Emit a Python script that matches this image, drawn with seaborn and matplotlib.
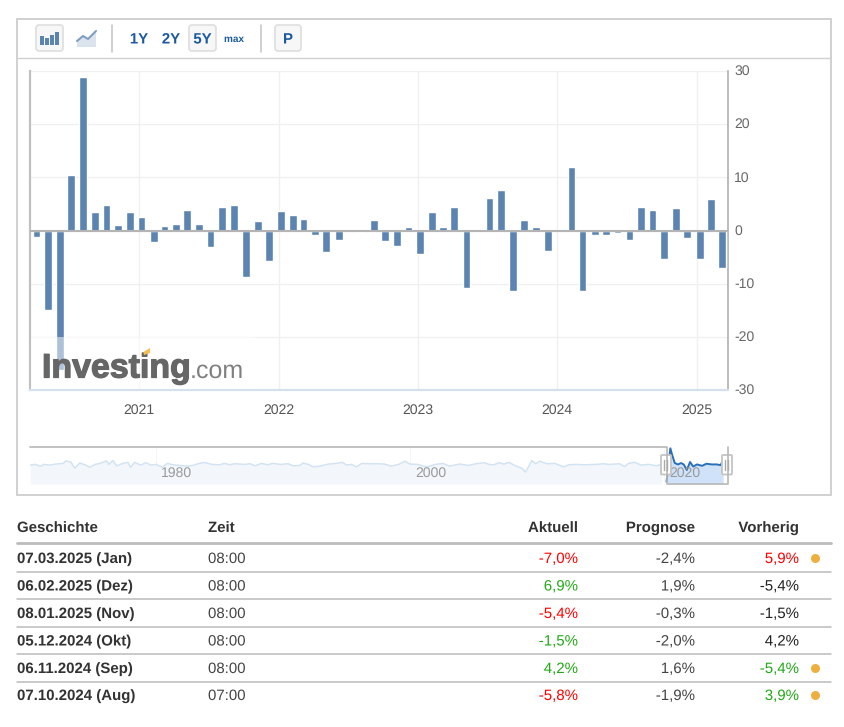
#!/usr/bin/env python3

import seaborn as sns
import pandas as pd
import matplotlib.pyplot as plt
import matplotlib.dates as mdates
import matplotlib.patheffects as pe
from matplotlib.patches import FancyBboxPatch, Rectangle, Polygon
from matplotlib.transforms import ScaledTranslation

# release dates and values of the bars
release_dates = [
    "2020-04-07", "2020-05-08", "2020-06-08", "2020-07-07", "2020-08-07", "2020-09-07",
    "2020-10-07", "2020-11-06", "2020-12-08", "2021-01-07", "2021-02-08", "2021-03-08",
    "2021-04-08", "2021-05-07", "2021-06-07", "2021-07-07", "2021-08-06", "2021-09-07",
    "2021-10-07", "2021-11-08", "2021-12-07", "2022-01-07", "2022-02-07", "2022-03-07",
    "2022-04-07", "2022-05-06", "2022-06-08", "2022-07-07", "2022-08-05", "2022-09-07",
    "2022-10-07", "2022-11-08", "2022-12-07", "2023-01-06", "2023-02-07", "2023-03-08",
    "2023-04-06", "2023-05-08", "2023-06-07", "2023-07-07", "2023-08-07", "2023-09-07",
    "2023-10-06", "2023-11-07", "2023-12-07", "2024-01-08", "2024-02-07", "2024-03-07",
    "2024-04-08", "2024-05-07", "2024-06-07", "2024-07-08", "2024-08-07", "2024-09-06",
    "2024-10-07", "2024-11-06", "2024-12-05", "2025-01-08", "2025-02-06", "2025-03-07",
]
actual_values = [
    -1.2, -15.0, -26.2, 10.5, 28.8, 3.4, 4.8, 1.0, 3.4, 2.6,
    -2.2, 0.8, 1.3, 3.9, 1.3, -3.1, 4.5, 4.8, -8.8, 1.7,
    -5.8, 3.6, 2.9, 2.2, -0.9, -4.1, -1.8, 0.0, -0.3, 2.0,
    -2.0, -3.0, 0.6, -4.4, 3.5, 0.6, 4.5, -10.9, 0.1, 6.2,
    7.6, -11.4, 2.0, 0.6, -3.9, 0.0, 11.9, -11.4, -0.9, -0.9,
    -0.5, -1.7, 4.5, 3.9, -5.3, 4.2, -1.5, -5.4, 5.9, -7.0,
]

# navigator overview, faded part and selected part
nav_years = [
    1970.1, 1970.5, 1970.9, 1971.2, 1971.6, 1972.1, 1972.7, 1972.9, 1973.3, 1973.6,
    1974.0, 1974.4, 1974.8, 1975.2, 1975.6, 1976.1, 1976.3, 1976.6, 1976.9, 1977.4,
    1977.8, 1978.0, 1978.3, 1978.8, 1979.2, 1979.6, 1980.0, 1980.5, 1980.9, 1981.3,
    1981.9, 1982.5, 1982.9, 1983.3, 1983.8, 1984.4, 1985.0, 1985.4, 1985.8, 1986.2,
    1987.0, 1987.4, 1987.8, 1988.3, 1988.8, 1989.2, 1989.8, 1990.4, 1990.8, 1991.3,
    1991.6, 1992.0, 1992.4, 1992.9, 1993.6, 1994.2, 1994.7, 1995.0, 1995.4, 1995.8,
    1996.2, 1996.8, 1997.5, 1998.0, 1998.5, 1999.1, 1999.6, 2000.0, 2000.6, 2001.3,
    2002.0, 2002.6, 2003.1, 2003.9, 2004.6, 2005.2, 2005.9, 2006.2, 2006.6, 2007.0,
    2007.4, 2007.8, 2008.3, 2008.8, 2009.1, 2009.6, 2009.9, 2010.2, 2010.8, 2011.4,
    2012.1, 2012.5, 2013.1, 2013.8, 2014.7, 2015.2, 2015.7, 2016.5, 2016.9, 2017.2,
    2017.7, 2018.2, 2018.8, 2019.4, 2019.8,
]
nav_values = [
    -1.2, 0.0, -3.0, 0.0, -1.2, 0.6, 1.8, 6.0, 4.2, -6.6,
    2.4, -0.6, -4.8, 0.0, 1.8, 6.0, 0.0, 6.6, -2.4, 1.8,
    3.6, -5.4, 3.6, -1.2, 3.0, -1.2, 0.0, -4.8, 1.8, -0.6,
    -1.8, -3.0, -1.8, 1.2, 3.6, 0.0, -0.6, 1.8, -0.6, 1.2,
    0.0, 1.2, -2.4, 1.8, -0.6, 1.8, 0.0, 1.2, -2.4, -1.8,
    2.4, 0.0, -4.2, -3.0, 0.6, 1.8, 3.6, -1.2, 0.0, -4.2,
    1.8, 1.2, 1.2, 0.6, -3.0, 0.0, 5.4, 0.6, 0.0, -4.2,
    0.0, 1.8, -3.0, 0.6, -1.8, 1.2, 3.0, 0.0, -0.6, 3.0,
    0.6, 3.6, -2.4, -6.6, -13.2, 6.6, 1.2, 5.4, 1.2, 1.8,
    -4.2, -0.6, 0.0, -0.6, 0.0, 1.2, 0.0, 1.2, -3.6, 1.8,
    3.6, -1.2, 0.0, -2.4, 0.0,
]
sel_years = [
    2020.2, 2020.5, 2020.65, 2020.85, 2021.1, 2021.35, 2021.55, 2021.8, 2022.05, 2022.3,
    2022.6, 2023.0, 2023.35, 2023.75, 2024.15, 2024.45, 2024.65,
]
sel_values = [
    -30.0, 28.0, 16.0, 2.4, 0.0, 2.4, 0.0, -9.6, 4.2, -3.6,
    0.0, -2.4, 1.2, 0.0, 0.0, -1.2, 6.0,
]
nav_labels = [1980, 2000, 2020]

# table below the chart
table_headers = ["Geschichte", "Zeit", "Aktuell", "Prognose", "Vorherig"]
table_dates = ["07.03.2025 (Jan)", "06.02.2025 (Dez)", "08.01.2025 (Nov)",
               "05.12.2024 (Okt)", "06.11.2024 (Sep)", "07.10.2024 (Aug)"]
table_times = ["08:00", "08:00", "08:00", "08:00", "08:00", "07:00"]
table_actual = ["-7,0%", "6,9%", "-5,4%", "-1,5%", "4,2%", "-5,8%"]
table_forecast = ["-2,4%", "1,9%", "-0,3%", "-2,0%", "1,6%", "-1,9%"]
table_previous = ["5,9%", "-5,4%", "-1,5%", "4,2%", "-5,4%", "3,9%"]
actual_colors = ["r", "g", "r", "g", "g", "r"]
previous_colors = ["r", "k", "k", "k", "g", "g"]
revised = [True, False, False, False, True, True]

W, H = 845, 727
BAR = "#5c84b1"
BLUE = "#1c5aa0"
COLORS = {"r": "#ff0000", "g": "#22a916", "k": "#222222"}
FONT = "Liberation Sans"
TABLE_SIZE = 10.8
# drawn as paths, so text stays on its baseline instead of snapping to pixels
EXACT = [pe.Normal()]

sns.set_theme(style="white")
plt.rcParams["font.family"] = [FONT, "DejaVu Sans"]
plt.rcParams["axes.unicode_minus"] = False
plt.rcParams["text.hinting"] = "no_hinting"
plt.rcParams["text.hinting_factor"] = 1


def px_axes(fig, left, top, right, bottom, **kw):
    return fig.add_axes([left / W, 1 - bottom / H, (right - left) / W, (bottom - top) / H], **kw)


def button(ax, x0, y0, x1, y1):
    ax.add_patch(FancyBboxPatch((x0 + 2, y0 + 2), x1 - x0 - 4, y1 - y0 - 4,
                                boxstyle="round,pad=2,rounding_size=3",
                                fc="#f7f7f7", ec="#dedede", lw=1.2))


fig = plt.figure(figsize=(W / 100, H / 100), dpi=100, facecolor="white")

# page layer: frame, toolbar, table
page = px_axes(fig, 0, 0, W, H, zorder=0)
page.set_xlim(0, W)
page.set_ylim(H, 0)
page.axis("off")

page.add_patch(Rectangle((17.5, 18.5), 813.5, 476.5, fc="white", ec="#c8c8c8", lw=1.2))
page.plot([18, 831], [57.5, 57.5], color="#d0d0d0", lw=1)
for x in [112.5, 261.5]:
    page.plot([x, x], [25, 52], color="#c4c4c4", lw=1.1)
button(page, 36, 25, 63, 51)
button(page, 189, 25, 216, 51)
button(page, 275, 25, 301, 51)

# toolbar icons
for x, top in [(40, 36), (45, 38), (50, 35), (55, 32)]:
    page.add_patch(Rectangle((x, top), 3.6, 45 - top, fc=BAR, ec="none"))
page.add_patch(Polygon([(77, 41), (83, 37), (88, 40), (96, 32), (96, 47), (77, 47)],
                       fc="#dbe3ec", ec="none"))
page.plot([77, 83, 88, 96], [41, 36, 39, 31], color="#7f9fc2", lw=1.5)

for label, x, size in [("1Y", 139, 10.8), ("2Y", 171, 10.8), ("5Y", 202.5, 10.8),
                       ("max", 234, 7.2), ("P", 288, 10.8)]:
    page.text(x, 43.5 if size > 8 else 42, label, color=BLUE, fontsize=size, fontweight="bold",
              ha="center", va="baseline", path_effects=EXACT)

# table
header_x = [17, 208, 578, 695, 799]
header_ha = ["left", "left", "right", "right", "right"]
for text, x, ha in zip(table_headers, header_x, header_ha):
    page.text(x, 532, text, color="#333333", fontsize=TABLE_SIZE, fontweight="bold",
              ha=ha, va="baseline", path_effects=EXACT)
page.plot([17, 831.5], [543, 543], color="#bbbbbb", lw=2)

row_y = [558, 585.5, 613, 640.5, 668, 695]
for i, y in enumerate(row_y):
    base = y + 5
    page.text(17, base, table_dates[i], color="#333333", fontsize=TABLE_SIZE, fontweight="bold",
              va="baseline", path_effects=EXACT)
    page.text(208, base, table_times[i], color="#444444", fontsize=TABLE_SIZE, va="baseline",
              path_effects=EXACT)
    page.text(578, base, table_actual[i], color=COLORS[actual_colors[i]], fontsize=TABLE_SIZE,
              ha="right", va="baseline", path_effects=EXACT)
    page.text(695, base, table_forecast[i], color="#444444", fontsize=TABLE_SIZE,
              ha="right", va="baseline", path_effects=EXACT)
    page.text(799, base, table_previous[i], color=COLORS[previous_colors[i]], fontsize=TABLE_SIZE,
              ha="right", va="baseline", path_effects=EXACT)
    if revised[i]:
        page.plot(815.5, y, "o", color="#edb03e", ms=6.5, mec="none")
    if i < len(row_y) - 1:
        page.plot([17, 831.5], [y + 13.7, y + 13.7], color="#bbbbbb", lw=1.1)

# main bars
ax = px_axes(fig, 30, 71, 728, 390, zorder=2)
ax.patch.set_alpha(0)
bars = pd.DataFrame({"date": pd.to_datetime(release_dates), "value": actual_values})
sns.barplot(data=bars, x="date", y="value", ax=ax, native_scale=True, orient="x",
            color=BAR, saturation=1, width=0.72, errorbar=None, zorder=3)
ax.set_xlim(pd.Timestamp("2020-03-21"), pd.Timestamp("2025-03-23"))
ax.set_ylim(-30, 30)
ax.set(xlabel=None, ylabel=None)
ax.set_yticks(range(-30, 31, 10))
ax.xaxis.set_major_locator(mdates.YearLocator())
ax.xaxis.set_major_formatter(mdates.DateFormatter("%Y"))
ax.yaxis.tick_right()
ax.grid(True, color="#f0f0f0", lw=1)
ax.set_axisbelow(True)
ax.tick_params(axis="x", length=0, pad=10.2, labelsize=10, labelcolor="#555555")
ax.tick_params(axis="y", length=0, pad=4.5, labelsize=10, labelcolor="#666666")
lift = ScaledTranslation(0, 1 / 100, fig.dpi_scale_trans)
for tick in ax.yaxis.get_major_ticks():
    tick.label2.set_transform(tick.label2.get_transform() + lift)
for side, color, lw in [("left", "#c0c0c0", 1.6), ("right", "#aaaaaa", 1.1),
                        ("bottom", "#d5e0ec", 1.6)]:
    ax.spines[side].set_color(color)
    ax.spines[side].set_linewidth(lw)
ax.spines["top"].set_visible(False)
ax.axhline(0, color="#b4b4b4", lw=1.5, zorder=4)

# navigator
nav = px_axes(fig, 30, 446, 728, 484, zorder=3)
nav.patch.set_alpha(0)
nav.set_xlim(1970.08, 2025.04)
nav.set_ylim(-34, 32)
nav.fill_between(nav_years, nav_values, -34, color="#f3f7fc", lw=0)
nav.fill_between(sel_years, sel_values, -34, color="#cfe2f9", lw=0)
sns.lineplot(x=nav_years, y=nav_values, ax=nav, color="#d3e3f2", lw=1.1, estimator=None)
sns.lineplot(x=sel_years, y=sel_values, ax=nav, color="#2a70b8", lw=1.4, estimator=None)
nav.set_xticks(nav_labels)
nav.set_xticklabels([])
nav.set_yticks([])
nav.set(xlabel=None, ylabel=None)
nav.tick_params(length=0)
nav.grid(True, axis="x", color="#f5f5f5", lw=0.7)
for side in nav.spines:
    nav.spines[side].set_visible(False)
for year in nav_labels:
    nav.text(year + 0.4, -15.5, str(year), color="#999999", fontsize=10, ha="left", va="center")

# overlay layer: watermark, navigator mask and handles
over = px_axes(fig, 0, 0, W, H, zorder=5)
over.set_xlim(0, W)
over.set_ylim(H, 0)
over.axis("off")
over.patch.set_alpha(0)

over.add_patch(Rectangle((31, 337), 224, 52, fc="white", ec="none", alpha=0.5))
over.text(42, 377.5, "Investing", color="#666666", fontsize=24.4, fontweight="bold",
          va="baseline", ha="left", family=FONT,
          path_effects=[pe.withStroke(linewidth=0.9, foreground="#666666")])
over.text(190, 377.5, ".com", color="#808080", fontsize=18, va="baseline", ha="left", family=FONT)
over.add_patch(Polygon([(143.5, 352), (150, 348), (150, 353), (144, 355)],
                       fc="#f7bd4e", ec="none", zorder=6))

over.plot([30, 667.5, 667.5, 728, 728], [446.5, 446.5, 484, 484, 446.5], color="#b8b8b8", lw=1.2)
for x in [666, 727]:
    over.add_patch(FancyBboxPatch((x - 4, 456), 8, 17.5, boxstyle="round,pad=1,rounding_size=1",
                                  fc="white", ec="#c4c4c4", lw=1.3))
    for dx in [-1.5, 1.5]:
        over.plot([x + dx, x + dx], [460, 470], color="#aaaaaa", lw=1)

fig.savefig("out.png", dpi=100)
